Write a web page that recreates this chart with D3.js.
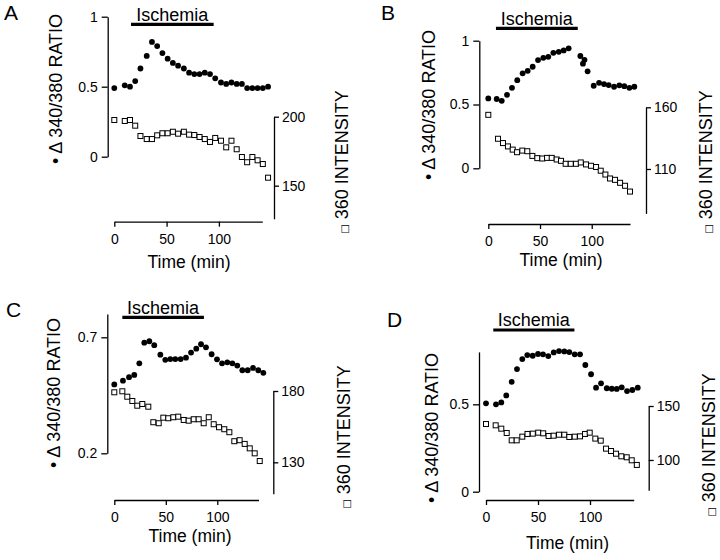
<!DOCTYPE html>
<html>
<head>
<meta charset="utf-8">
<script src="https://cdn.jsdelivr.net/npm/d3@7"></script>
<style>
  html, body { margin: 0; padding: 0; background: #fff; }
  svg { display: block; }
  text { font-family: "Liberation Sans", Arial, sans-serif; fill: #000; }
</style>
</head>
<body>
<svg id="chart" width="720" height="560"></svg>
<script>
// ---------------- DATA ----------------
const timeTicks = [0, 50, 100];
const ischemiaLabel = "Ischemia";
const xTitle = "Time (min)";
const leftTitle = "Δ 340/380 RATIO";
const rightTitle = "360 INTENSITY";

// Panel A
const timeA = [0,10,15,20,25,31,36,41,46,51,56,61,66.5,71.5,76.5,81.5,86.5,91.5,96.5,102,107,112,117,122,127,132,137,142,147];
const ratioA = [0.49,0.51,0.50,0.54,0.63,0.72,0.82,0.79,0.74,0.70,0.67,0.65,0.63,0.60,0.59,0.59,0.60,0.59,0.56,0.53,0.52,0.53,0.52,0.52,0.49,0.49,0.49,0.49,0.50];
const intensityA = [197.6,196.9,197.6,193.5,186,183.8,183.8,186.5,188,188,189.1,187.7,189.1,187,186.7,185.3,183.8,181.7,184.6,182.6,177.8,182.6,176.4,170.8,167,170.8,168.4,165.7,155.8];
const ratioTicksA = [0, 0.5, 1];
const intensityTicksA = [150, 200];
const ischemiaA = [16, 95];

// Panel B
const timeRatioB = [0,8.1,13,18.1,22.9,28,33.2,38.1,42.9,48.1,53.2,58,62.9,68.1,72.9,77.7,89,91.5,93,96,101.9,107.1,111.9,116.4,121.6,126.7,131.5,136.4,141.2];
const ratioB = [0.548,0.543,0.529,0.576,0.631,0.691,0.744,0.764,0.796,0.848,0.866,0.874,0.905,0.913,0.924,0.94,0.88,0.82,0.85,0.76,0.647,0.67,0.66,0.652,0.639,0.65,0.644,0.631,0.639];
const timeIntensityB = [0,9.4,14.2,19,23.6,27.8,32.9,37.7,42.6,47.4,52.2,56.8,61.3,66.1,70.3,74.8,79.7,84.8,89.4,94.5,99.3,104.2,108.7,113.2,117.7,122.5,127.4,132.2,137];
const intensityB = [153.9,134.5,131,128.3,125.7,123.6,124.9,124.4,120.6,118.8,118.5,119,119,117.7,116.6,114.2,114.2,114.2,115.3,113.7,112.6,111.6,108.6,105.5,102.3,101.2,98.8,96.4,91.7];
const ratioTicksB = [0, 0.5, 1];
const intensityTicksB = [110, 160];
const ischemiaB = [7.4, 86.5];

// Panel C
const timeRatioC = [0,8.4,14.3,19.4,24.3,29.1,34,38.8,44.7,49.5,54.4,59.2,64.4,69.6,74.5,79.6,84.2,89,94.5,99.7,104.6,109.7,114.6,119.4,124.3,129.5,134.7,139.8,144.7];
const ratioC = [0.497,0.513,0.528,0.538,0.588,0.677,0.683,0.666,0.625,0.603,0.606,0.606,0.606,0.612,0.634,0.651,0.67,0.657,0.627,0.605,0.588,0.592,0.588,0.578,0.558,0.558,0.568,0.558,0.547];
const timeIntensityC = [0,7.8,12.6,17.5,22.3,27.2,33,37.9,43.1,47.6,52.4,57.3,62.1,67.4,72.2,77.1,81.9,86.8,91.7,96.5,101.7,106.8,111.7,116.5,121.7,126.6,131.5,136.3,141.2];
const intensityC = [179.1,179.8,176,173,169.7,170.9,169,158.1,157.4,161.3,160.9,161.6,162,159.7,159.2,160.2,160.2,157.4,161.6,156.7,154.6,153.2,151.1,144.8,145.5,142.9,139.8,136.3,130.9];
const ratioTicksC = [0.2, 0.7];
const intensityTicksC = [130, 180];
const ischemiaC = [7.8, 87];

// Panel D
const timeRatioD = [0,9.6,14.7,19.5,24.7,29.8,34.9,39.7,44.9,50,54.8,59.9,65.1,70.2,75.3,80.1,85.3,90.4,95.5,101,105.8,110.6,116.1,120.9,125.7,130.5,135.6,140.7,145.9];
const ratioD = [0.506,0.5,0.511,0.551,0.629,0.702,0.759,0.782,0.778,0.788,0.786,0.776,0.797,0.805,0.803,0.799,0.786,0.786,0.725,0.672,0.595,0.62,0.592,0.589,0.588,0.597,0.576,0.582,0.595];
const timeIntensityD = [0,9.3,14.7,19.9,24.7,29.5,34.9,39.9,45,50.2,55,60.2,65,70.2,75.3,80.1,85.3,90.4,95.2,99.7,105.1,110.3,115.4,120.2,125,130.1,135.3,140.1,145];
const intensityD = [133.3,132.1,129,125,118.2,118.2,121.6,124.1,124.4,125.3,124.7,122.2,122.5,123.4,123.4,121.3,121.6,121.9,124.1,125.3,119.8,117.9,110.5,108.3,105.8,103.4,102.5,99.7,95.4];
const ratioTicksD = [0, 0.5];
const intensityTicksD = [100, 150];
const ischemiaD = [7, 85];

// ---------------- LAYOUT ----------------
const panels = [
  { letter: "A", lx: 4, ly: 20,
    tR: timeA, r: ratioA, tI: timeA, I: intensityA, rTicks: ratioTicksA, iTicks: intensityTicksA, isch: ischemiaA,
    xRange: [114.3, 262.3], xMax: 141.5, axisY: 221.7,
    leftX: 107.7, rDom: [0, 1], rRange: [156.7, 16.7],
    rightX: 274, iDom: [126, 200], iRange: [218.8, 116.7],
    barY: 24.3, xTitleX: 189, xTitleY: 267.5,
    lTitleX: 62, lTitleY: 89, rTitleX: 348, rTitleY: 162 },
  { letter: "B", lx: 381, ly: 20,
    tR: timeRatioB, r: ratioB, tI: timeIntensityB, I: intensityB, rTicks: ratioTicksB, iTicks: intensityTicksB, isch: ischemiaB,
    xRange: [488.3, 630], xMax: 137, axisY: 224,
    leftX: 479.3, rDom: [0, 1], rRange: [168.3, 40.7],
    rightX: 646, iDom: [74, 160], iRange: [213.4, 107.3],
    barY: 28.3, xTitleX: 561, xTitleY: 266,
    lTitleX: 435, lTitleY: 105, rTitleX: 712, rTitleY: 162 },
  { letter: "C", lx: 6, ly: 316.5,
    tR: timeRatioC, r: ratioC, tI: timeIntensityC, I: intensityC, rTicks: ratioTicksC, iTicks: intensityTicksC, isch: ischemiaC,
    xRange: [114.3, 258.5], xMax: 140, axisY: 500,
    leftX: 107.3, rDom: [0.2, 0.8], rRange: [453.3, 314.1],
    rightX: 273.3, iDom: [108, 180], iRange: [493.7, 391],
    barY: 317.3, xTitleX: 190, xTitleY: 542,
    lTitleX: 60, lTitleY: 393, rTitleX: 350, rTitleY: 437 },
  { letter: "D", lx: 387, ly: 327,
    tR: timeRatioD, r: ratioD, tI: timeIntensityD, I: intensityD, rTicks: ratioTicksD, iTicks: intensityTicksD, isch: ischemiaD,
    xRange: [486, 633.7], xMax: 142, axisY: 500,
    leftX: 479, rDom: [0, 0.8], rRange: [491.7, 351.9],
    rightX: 648.7, iDom: [72, 150], iRange: [490.2, 406],
    barY: 330, xTitleX: 567.5, xTitleY: 549,
    lTitleX: 438, lTitleY: 428, rTitleX: 715, rTitleY: 445 }
];

const svg = d3.select("#chart");
svg.append("rect").attr("width", 720).attr("height", 560).attr("fill", "#fff");

const fmt = d => (Math.round(d * 10) / 10).toString();

panels.forEach(p => {
  const g = svg.append("g");
  const x = d3.scaleLinear().domain([0, p.xMax]).range(p.xRange);
  const yR = d3.scaleLinear().domain(p.rDom).range(p.rRange);
  const yI = d3.scaleLinear().domain(p.iDom).range(p.iRange);

  // axes
  const ax = g.append("g").attr("transform", `translate(0,${p.axisY})`)
    .call(d3.axisBottom(x).tickValues(timeTicks).tickSize(5).tickSizeOuter(0).tickPadding(7).tickFormat(d3.format("d")));
  const al = g.append("g").attr("transform", `translate(${p.leftX},0)`)
    .call(d3.axisLeft(yR).tickValues(p.rTicks).tickSize(6).tickSizeOuter(0).tickPadding(4).tickFormat(fmt));
  const ar = g.append("g").attr("transform", `translate(${p.rightX},0)`)
    .call(d3.axisRight(yI).tickValues(p.iTicks).tickSize(5).tickSizeOuter(0).tickPadding(3).tickFormat(d3.format("d")));
  [ax, al, ar].forEach(a => {
    a.select(".domain").attr("stroke", "#000").attr("stroke-width", 1.3);
    a.selectAll(".tick line").attr("stroke", "#000").attr("stroke-width", 1.3);
    a.selectAll(".tick text").attr("font-size", 14).attr("font-family", "Liberation Sans, Arial, sans-serif").attr("fill", "#000");
  });

  // ischemia bar
  g.append("line")
    .attr("x1", x(p.isch[0])).attr("x2", x(p.isch[1]))
    .attr("y1", p.barY).attr("y2", p.barY)
    .attr("stroke", "#000").attr("stroke-width", 3.2);
  g.append("text")
    .attr("x", (x(p.isch[0]) + x(p.isch[1])) / 2).attr("y", p.barY - 3.8)
    .attr("text-anchor", "middle").attr("font-size", 18).text(ischemiaLabel);

  // intensity squares
  const sq = 5;
  g.selectAll(".sq").data(p.tI.map((t, i) => [t, p.I[i]])).enter().append("rect")
    .attr("x", d => x(d[0]) - sq / 2).attr("y", d => yI(d[1]) - sq / 2)
    .attr("width", sq).attr("height", sq)
    .attr("fill", "#fff").attr("stroke", "#000").attr("stroke-width", 1);

  // ratio circles
  g.selectAll(".dot").data(p.tR.map((t, i) => [t, p.r[i]])).enter().append("circle")
    .attr("cx", d => x(d[0])).attr("cy", d => yR(d[1])).attr("r", 2.9).attr("fill", "#000");

  // titles
  g.append("text").attr("x", p.xTitleX).attr("y", p.xTitleY)
    .attr("text-anchor", "middle").attr("font-size", 17.5).text(xTitle);

  const lt = g.append("text")
    .attr("transform", `translate(${p.lTitleX},${p.lTitleY}) rotate(-90)`)
    .attr("text-anchor", "middle").attr("font-size", 18);
  lt.append("tspan").text("• ");
  lt.append("tspan").text(leftTitle);

  const rt = g.append("text")
    .attr("transform", `translate(${p.rTitleX},${p.rTitleY}) rotate(-90)`)
    .attr("text-anchor", "middle").attr("font-size", 18);
  rt.append("tspan").attr("font-size", 10).attr("font-family", "DejaVu Sans").text("□");
  rt.append("tspan").text(" " + rightTitle);

  // panel letter
  g.append("text").attr("x", p.lx).attr("y", p.ly).attr("font-size", 21).text(p.letter);
});
</script>
</body>
</html>
